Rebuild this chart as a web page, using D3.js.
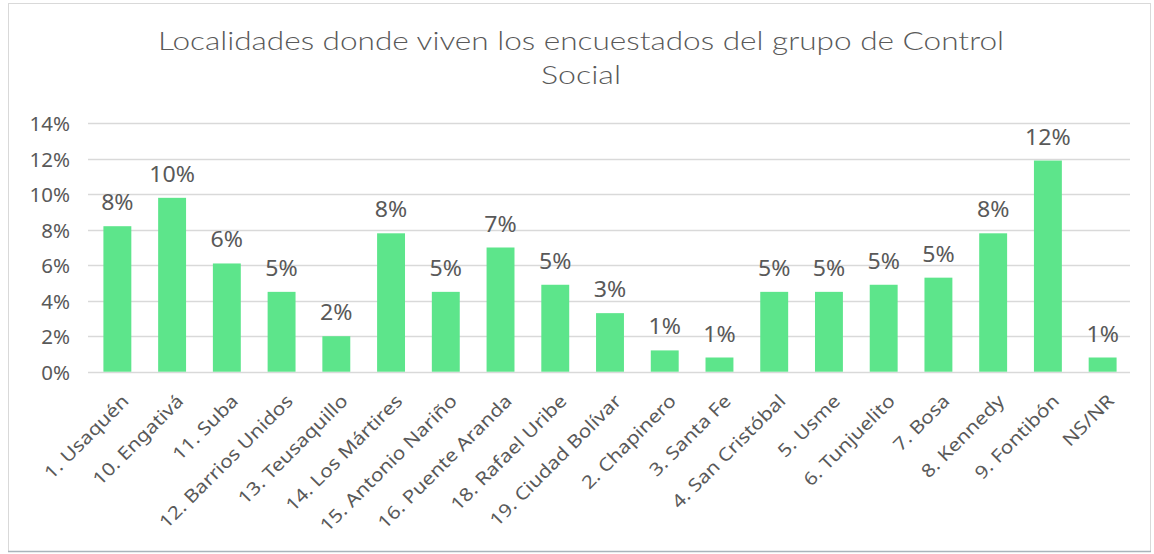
<!DOCTYPE html>
<html>
<head>
<meta charset="utf-8">
<script src="https://cdn.jsdelivr.net/npm/d3@7"></script>
<style>
  html, body { margin: 0; padding: 0; background: #ffffff; }
  svg { display: block; }
  text { font-family: "Noto Sans", "DejaVu Sans", sans-serif; fill: #595959; }
</style>
</head>
<body>
<svg id="chart" width="1154" height="554"></svg>
<script>
// Localidades (categorías del eje X)
const localidades = [
  "1. Usaquén", "10. Engativá", "11. Suba", "12. Barrios Unidos", "13. Teusaquillo",
  "14. Los Mártires", "15. Antonio Nariño", "16. Puente Aranda", "18. Rafael Uribe",
  "19. Ciudad Bolívar", "2. Chapinero", "3. Santa Fe", "4. San Cristóbal", "5. Usme",
  "6. Tunjuelito", "7. Bosa", "8. Kennedy", "9. Fontibón", "NS/NR"
];
// Porcentaje de encuestados por localidad
const porcentajes = [
  8.2, 9.8, 6.1, 4.5, 2.0, 7.8, 4.5, 7.0, 4.9, 3.3,
  1.2, 0.8, 4.5, 4.5, 4.9, 5.3, 7.8, 11.9, 0.8
];
// Marcas del eje Y
const ticksY = [0, 2, 4, 6, 8, 10, 12, 14];
const tituloLineas = ["Localidades donde viven los encuestados del grupo de Control", "Social"];

const svg = d3.select("#chart");

// Marco del gráfico
svg.append("rect")
  .attr("x", 8.5).attr("y", 3.5).attr("width", 1142).attr("height", 548)
  .attr("fill", "#ffffff").attr("stroke", "#d9d9d9").attr("stroke-width", 1);
svg.append("line")
  .attr("x1", 8).attr("x2", 1151).attr("y1", 551.5).attr("y2", 551.5)
  .attr("stroke", "#a9b4bb").attr("stroke-width", 1.5);

const plot = { left: 90, right: 1130, top: 123.3, bottom: 371.7 };

const x = d3.scaleBand()
  .domain(localidades)
  .range([plot.left, plot.right])
  .paddingInner(0.49)
  .paddingOuter(0.245);

const y = d3.scaleLinear()
  .domain([0, 14])
  .range([plot.bottom, plot.top]);

// Líneas de cuadrícula
svg.append("g")
  .selectAll("line")
  .data(ticksY)
  .join("line")
  .attr("x1", plot.left - 2).attr("x2", plot.right)
  .attr("y1", d => Math.round(y(d)) + 0.5).attr("y2", d => Math.round(y(d)) + 0.5)
  .attr("stroke", "#d9d9d9").attr("stroke-width", 1.5);

// Eje Y
const axisY = d3.axisLeft(y)
  .tickValues(ticksY)
  .tickFormat(d => d + "%")
  .tickSize(0)
  .tickPadding(0);
const gy = svg.append("g").attr("transform", `translate(${70},0)`).call(axisY);
gy.select(".domain").remove();
gy.selectAll("text")
  .attr("font-size", 20.5)
  .attr("fill", "#595959")
  .style("font-family", '"Noto Sans", sans-serif')
  .attr("dy", "0.36em");

// Barras
svg.append("g")
  .selectAll("rect")
  .data(porcentajes)
  .join("rect")
  .attr("x", (d, i) => x(localidades[i]))
  .attr("width", x.bandwidth())
  .attr("y", d => y(d))
  .attr("height", d => y(0) - y(d))
  .attr("fill", "#5de58b");

// Etiquetas de valor
svg.append("g")
  .selectAll("text")
  .data(porcentajes)
  .join("text")
  .attr("x", (d, i) => x(localidades[i]) + x.bandwidth() / 2)
  .attr("y", d => y(d) - 16)
  .attr("text-anchor", "middle")
  .attr("font-size", 21)
  .text(d => Math.round(d) + "%")
  .each(function () {
    const len = this.getComputedTextLength();
    d3.select(this).attr("textLength", len * 1.1).attr("lengthAdjust", "spacingAndGlyphs");
  });

// Eje X con etiquetas inclinadas
const axisX = d3.axisBottom(x).tickSize(0).tickPadding(0);
const gx = svg.append("g").attr("transform", `translate(0,${plot.bottom})`).call(axisX);
gx.select(".domain").remove();
gx.selectAll("text")
  .attr("font-size", 18)
  .attr("fill", "#606060")
  .style("font-family", '"Noto Sans", sans-serif')
  .attr("text-anchor", "end")
  .attr("dy", null)
  .attr("y", 0)
  .attr("transform", "translate(4,22) rotate(-45) translate(0,12)")
  .each(function () {
    // letra ancha: se estira el texto a lo largo de su línea base
    const len = this.getComputedTextLength();
    d3.select(this)
      .attr("textLength", len * 1.16)
      .attr("lengthAdjust", "spacingAndGlyphs");
  });

// Título
svg.append("text")
  .attr("x", 581)
  .attr("y", 50)
  .attr("text-anchor", "middle")
  .attr("font-size", 25)
  .style("font-family", '"Lato", "Noto Sans", sans-serif')
  .style("font-weight", 300)
  .selectAll("tspan")
  .data(tituloLineas)
  .join("tspan")
  .attr("x", 581)
  .attr("dy", (d, i) => i === 0 ? 0 : 34)
  .each(function (d, i) {
    d3.select(this).text(d);
    const len = this.getComputedTextLength();
    const objetivo = i === 0 ? 846 : 80;
    d3.select(this)
      .attr("textLength", Math.max(len, objetivo))
      .attr("lengthAdjust", "spacingAndGlyphs");
  });
</script>
</body>
</html>
